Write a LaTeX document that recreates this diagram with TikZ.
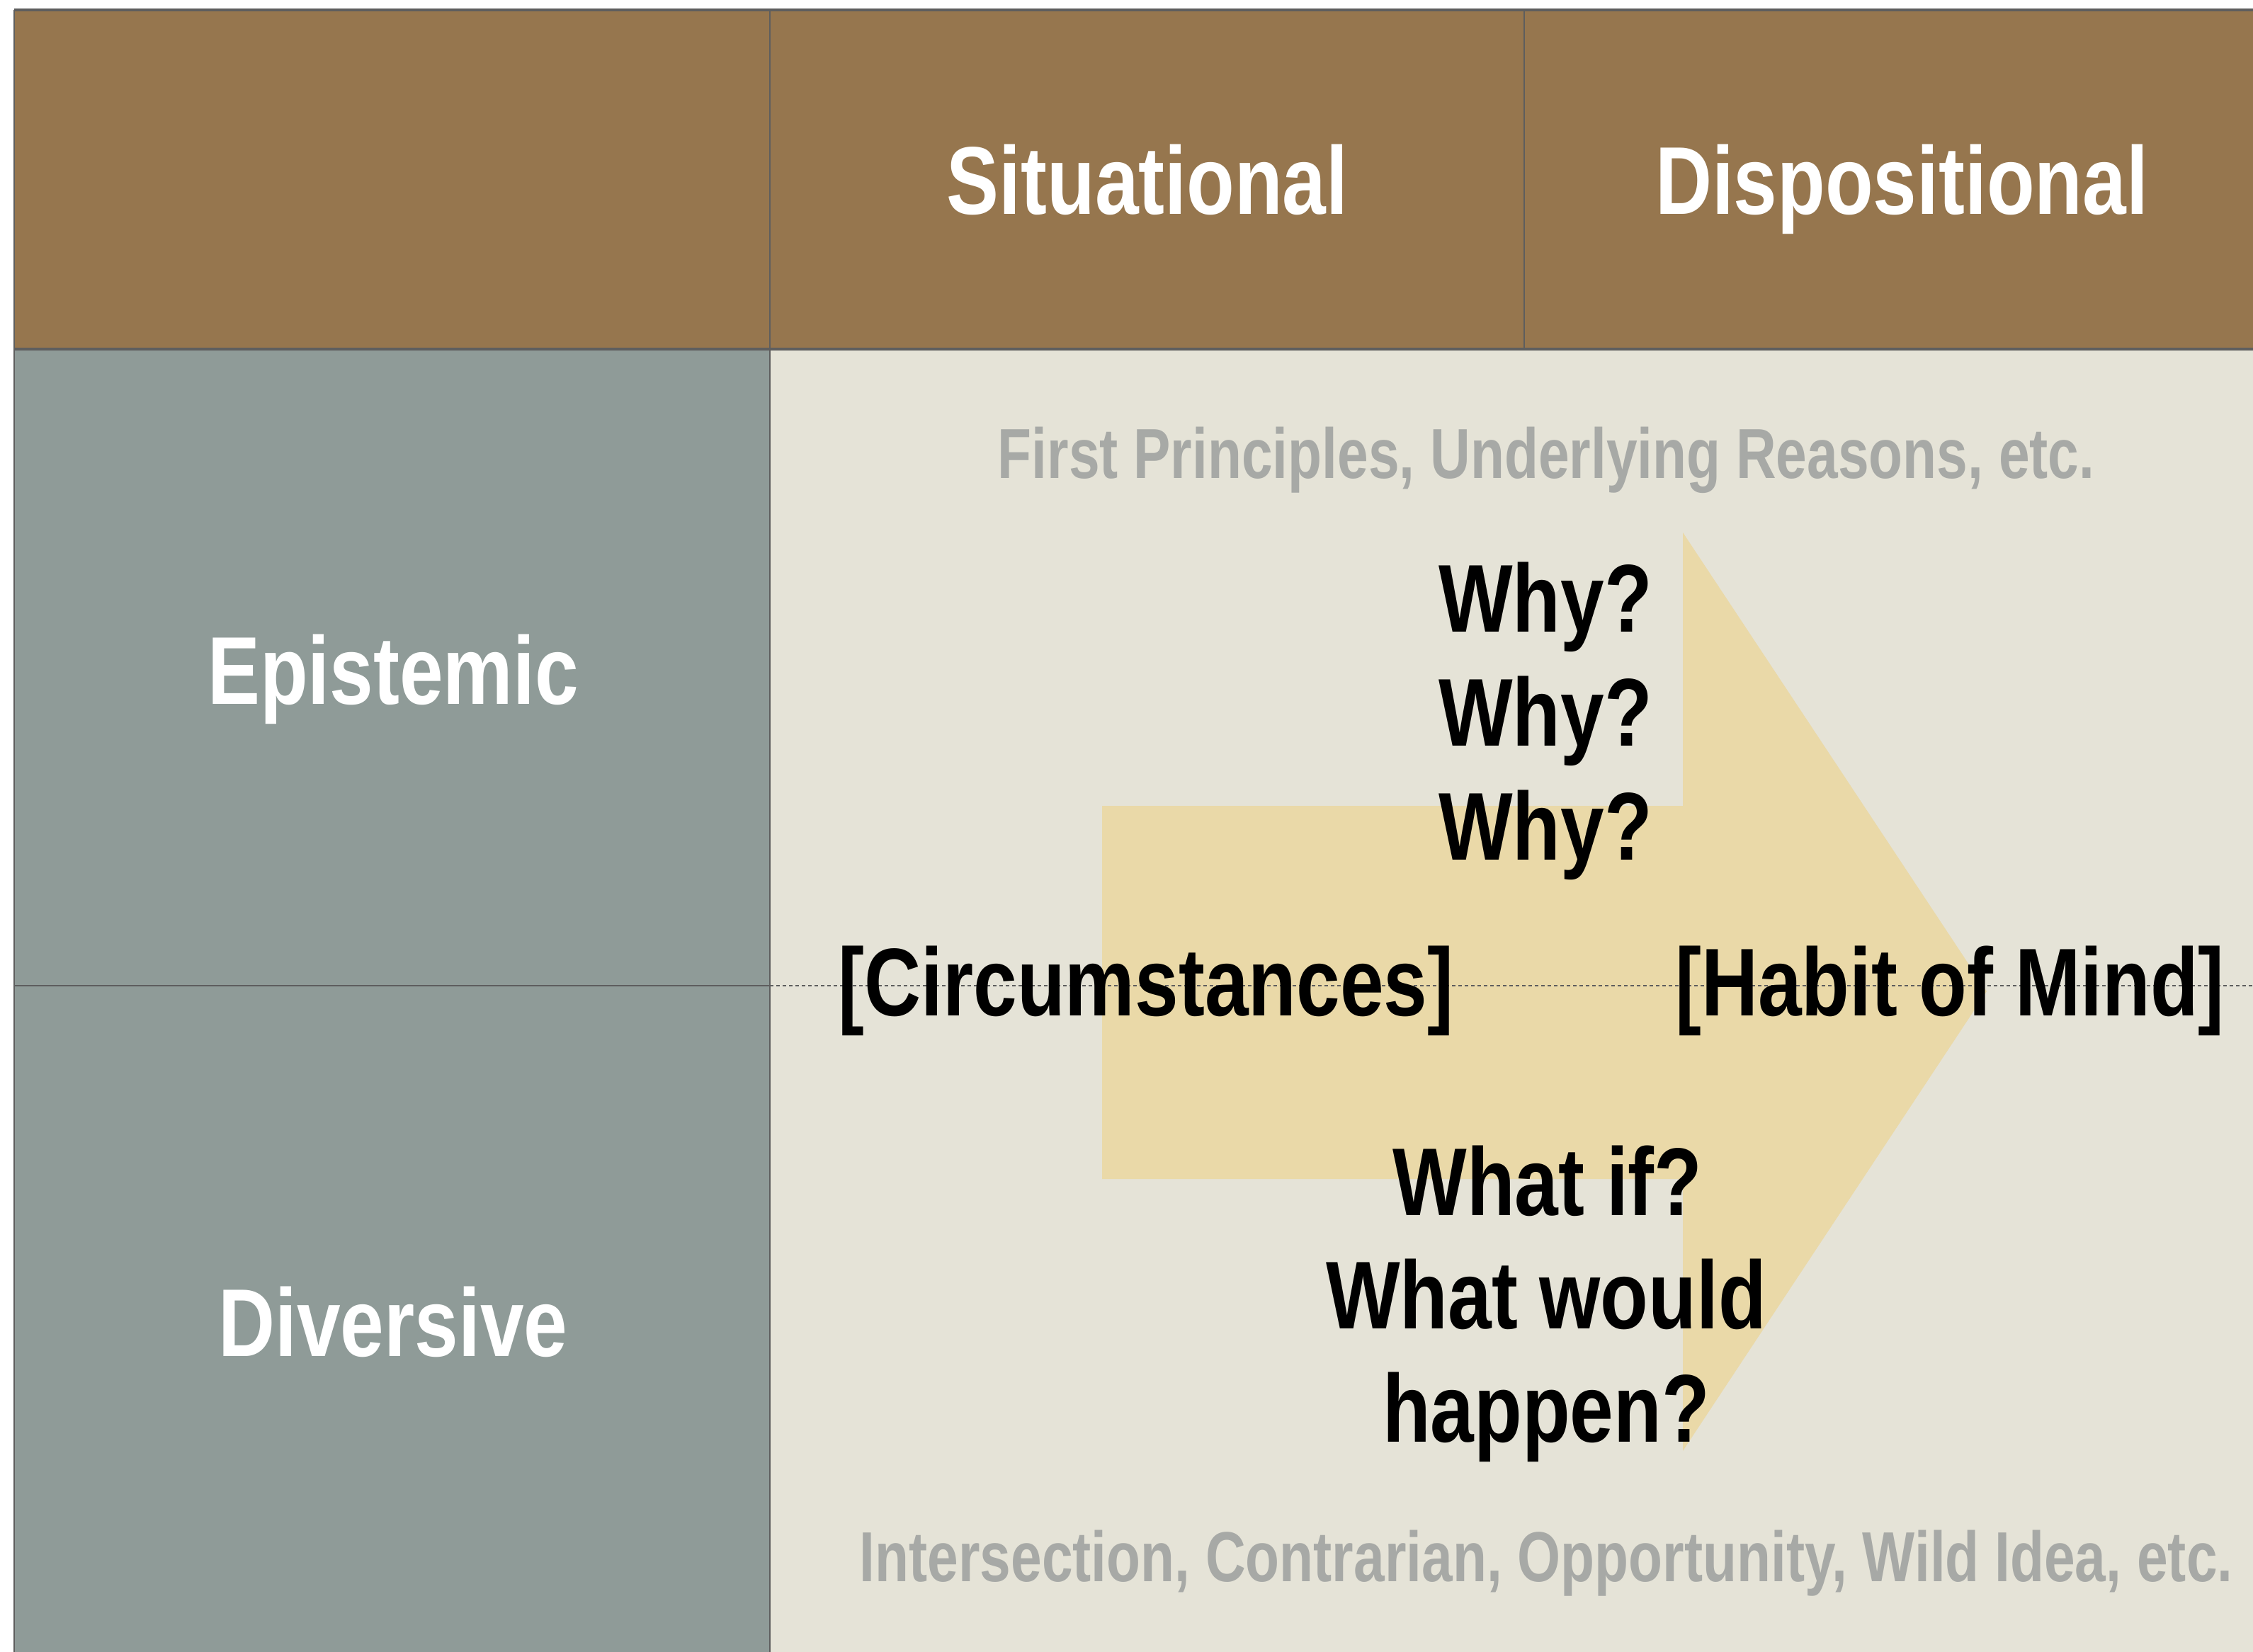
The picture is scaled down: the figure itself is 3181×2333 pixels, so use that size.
\documentclass[tikz,border=0pt]{standalone}
\usepackage{fontspec}
\newfontfamily\cond[FakeStretch=0.815]{Liberation Sans Bold}
\newfontfamily\condsm[FakeStretch=0.785]{Liberation Sans Bold}
\definecolor{hdr}{RGB}{150,118,78}
\definecolor{side}{RGB}{143,155,152}
\definecolor{bgc}{RGB}{229,227,215}
\definecolor{arr}{RGB}{234,217,168}
\definecolor{rule}{RGB}{94,94,94}
\definecolor{soft}{RGB}{167,169,166}
\tikzset{
  big/.style={font=\cond\fontsize{34}{40}\selectfont, inner sep=0pt, anchor=base},
  bigw/.style={big, text=white},
  small/.style={font=\condsm\fontsize{25}{30}\selectfont, inner sep=0pt, anchor=base, text=soft},
}
\begin{document}
\begin{tikzpicture}[x=0.25pt,y=-0.25pt]
\useasboundingbox (0,0) rectangle (3181,2333);
\begin{scope}
\clip (0,0) rectangle (3181,2333);
\fill[white] (0,0) rectangle (3181,2333);
% cells
\fill[hdr] (20,14) rectangle (3300,493);
\fill[side] (20,493) rectangle (1087,2400);
\fill[bgc] (1087,493) rectangle (3300,2400);
% arrow
\fill[arr] (1556,1138) -- (2376,1138) -- (2376,752) -- (2805,1400) -- (2376,2049) -- (2376,1665) -- (1556,1665) -- cycle;
% grid lines
\draw[rule, line width=1.2pt] (20,14) -- (3300,14);
\draw[rule, line width=1.0pt] (20,493) -- (3300,493);
\draw[rule, line width=0.6pt] (20,14) -- (20,2400);
\draw[rule, line width=0.6pt] (1087,14) -- (1087,2400);
\draw[rule, line width=0.6pt] (2152,14) -- (2152,493);
\draw[rule, line width=0.6pt] (20,1392) -- (1087,1392);
\draw[rule, line width=0.6pt, dash pattern=on 1.25pt off 1pt] (1087,1392) -- (3300,1392);
\end{scope}
% headers
\node[bigw] (sit) at (1620,303) {Situational};
\node[bigw] (dis) at (2685,303) {Dispositional};
\node[bigw] (epi) at (555,994) {Epistemic};
\node[bigw] (div) at (555,1915) {Diversive};
% content
\node[small] (fp) at (2183,675) {First Principles, Underlying Reasons, etc.};
\node[big] (w1) at (2182,892) {Why?};
\node[big] (w2) at (2182,1053) {Why?};
\node[big] (w3) at (2182,1214) {Why?};
\node[big] (circ) at (1618,1434) {[Circumstances]};
\node[big] (habit) at (2753,1434) {[Habit of Mind]};
\node[big] (wi) at (2185,1716) {What if?};
\node[big] (ww) at (2183,1876) {What would};
\node[big] (hap) at (2183,2036) {happen?};
\node[small] (inter) at (2183,2233) {Intersection, Contrarian, Opportunity, Wild Idea, etc.};
\end{tikzpicture}
\end{document}
